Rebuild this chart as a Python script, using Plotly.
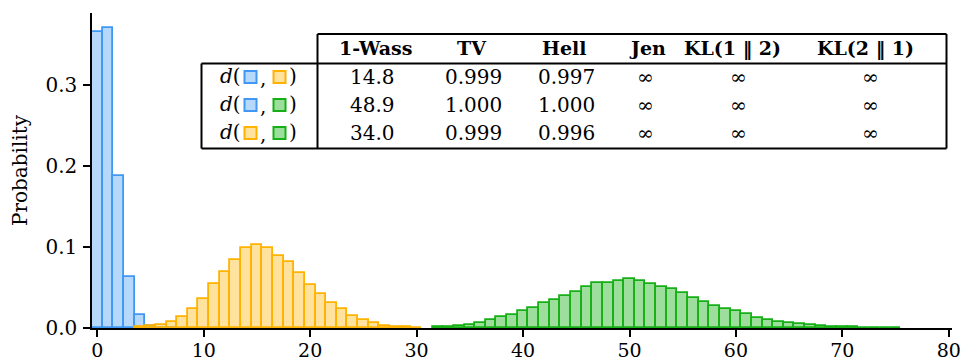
import plotly.graph_objects as go

# Probability mass of the three distributions, per integer bin
blue_x = list(range(0, 8))
blue_p = [0.365, 0.370, 0.187, 0.063, 0.0165, 0.003, 0.0006, 0.0001]

yellow_x = list(range(4, 31))
yellow_p = [0.001, 0.002, 0.004, 0.008, 0.014, 0.023, 0.036, 0.054, 0.069, 0.084,
            0.099, 0.102, 0.099, 0.089, 0.081, 0.068, 0.053, 0.042, 0.031, 0.023,
            0.015, 0.010, 0.006, 0.003, 0.0015, 0.0007, 0.0003]

green_x = list(range(32, 76))
green_p = [0.0007, 0.0012, 0.002, 0.0035, 0.0065, 0.0095, 0.013, 0.016, 0.021, 0.025,
           0.031, 0.034, 0.039, 0.045, 0.050, 0.055, 0.055, 0.058, 0.0605, 0.058,
           0.054, 0.051, 0.0475, 0.043, 0.037, 0.032, 0.027, 0.0235, 0.0205, 0.017,
           0.0125, 0.010, 0.0075, 0.006, 0.0045, 0.0035, 0.0025, 0.0018, 0.0012, 0.0008,
           0.0005, 0.0003, 0.0002, 0.0001]

x_ticks = [0, 10, 20, 30, 40, 50, 60, 70, 80]
y_ticks = [0.0, 0.1, 0.2, 0.3]

# Distance table
col_headers = ["1-Wass", "TV", "Hell", "Jen", "KL(1 \u2016 2)", "KL(2 \u2016 1)"]
row_pairs = [("blue", "yellow"), ("blue", "green"), ("yellow", "green")]
table_values = [
    ["14.8", "0.999", "0.997", "\u221e", "\u221e", "\u221e"],
    ["48.9", "1.000", "1.000", "\u221e", "\u221e", "\u221e"],
    ["34.0", "0.999", "0.996", "\u221e", "\u221e", "\u221e"],
]

edge = {"blue": "rgb(64,152,244)", "yellow": "rgb(255,178,0)", "green": "rgb(22,176,22)"}
fill = {"blue": "rgba(64,152,244,0.38)", "yellow": "rgba(255,178,0,0.38)",
        "green": "rgba(22,176,22,0.42)"}

SERIF = "DejaVu Serif"
W, H = 961, 364
ML, MR, MT, MB = 92, 9, 13, 36
PW, PH = W - ML - MR, H - MT - MB

fig = go.Figure()
for name, xs, ps in [("blue", blue_x, blue_p), ("yellow", yellow_x, yellow_p),
                     ("green", green_x, green_p)]:
    fig.add_trace(go.Bar(
        x=xs, y=ps, width=1.0, name=name, showlegend=False,
        marker=dict(color=fill[name], line=dict(color=edge[name], width=1.8)),
    ))


def px(xp):
    return (xp - ML) / PW


def py(yp):
    return (H - MB - yp) / PH


shapes = []
annotations = []


def hline(x0, x1, y):
    shapes.append(dict(type="line", xref="paper", yref="paper", x0=px(x0), x1=px(x1),
                       y0=py(y), y1=py(y), line=dict(color="black", width=2)))


def vline(x, y0, y1):
    shapes.append(dict(type="line", xref="paper", yref="paper", x0=px(x), x1=px(x),
                       y0=py(y0), y1=py(y1), line=dict(color="black", width=2)))


def text(x, y, s, size=19, anchor="center", bold=False):
    annotations.append(dict(xref="paper", yref="paper", x=px(x), y=py(y), text=s,
                            showarrow=False, xanchor=anchor, yanchor="middle",
                            font=dict(family=SERIF, size=size, color="black",
                                      weight="bold" if bold else "normal")))


# table frame
tbl_l, tbl_m, tbl_r = 201.5, 317.5, 946.5
tbl_top, tbl_sep, tbl_bot = 34, 63.5, 148.5
shapes.append(dict(type="rect", xref="paper", yref="paper", x0=px(tbl_m), x1=px(tbl_r),
                   y0=py(tbl_sep), y1=py(tbl_top), fillcolor="white", line=dict(width=0),
                   layer="above"))
shapes.append(dict(type="rect", xref="paper", yref="paper", x0=px(tbl_l), x1=px(tbl_r),
                   y0=py(tbl_bot), y1=py(tbl_sep), fillcolor="white", line=dict(width=0),
                   layer="above"))
hline(tbl_m, tbl_r, tbl_top)
hline(tbl_l, tbl_r, tbl_sep)
hline(tbl_l, tbl_r, tbl_bot)
vline(tbl_l, tbl_sep, tbl_bot)
vline(tbl_m, tbl_top, tbl_bot)
vline(tbl_r, tbl_top, tbl_bot)

head_x = [375, 472, 564, 647, 732, 865]
body_x = [372, 473, 566, 645, 738, 870]
row_y = [77, 105, 133]

for hx, h in zip(head_x, col_headers):
    text(hx, 48, h, size=19, bold=True)

for ry, vals in zip(row_y, table_values):
    for bx, v in zip(body_x, vals):
        text(bx, ry, v, size=20)

# row labels: d(■, ■) with coloured swatches
for ry, (a, b) in zip(row_y, row_pairs):
    text(243, ry - 1, "<i>d</i>(", size=20, anchor="right")
    text(258, ry + 1, ",", size=20, anchor="left")
    text(287, ry - 1, ")", size=20, anchor="left")
    for (x0, x1), c in [((244.5, 256.5), a), ((273.5, 285.5), b)]:
        shapes.append(dict(type="rect", xref="paper", yref="paper",
                           x0=px(x0), x1=px(x1), y0=py(ry + 6), y1=py(ry - 6),
                           fillcolor=fill[c], line=dict(color=edge[c], width=2),
                           layer="above"))

axis_common = dict(showline=True, linecolor="black", linewidth=1.5, ticks="outside",
                   ticklen=7, tickwidth=1.5, tickcolor="black", showgrid=False,
                   zeroline=False, automargin=False)

fig.update_layout(
    width=W, height=H,
    margin=dict(l=ML, r=MR, t=MT, b=MB),
    paper_bgcolor="white", plot_bgcolor="white",
    barmode="overlay", bargap=0,
    shapes=shapes, annotations=annotations,
    xaxis=dict(range=[-0.5, 80.3], tickvals=x_ticks, ticktext=[str(v) for v in x_ticks],
               ticklabelstandoff=-3, ticklabeloverflow="allow",
               tickfont=dict(family=SERIF, size=19, color="black"), **axis_common),
    yaxis=dict(range=[0, 0.3885], tickvals=y_ticks,
               ticktext=[f"{v:.1f}" for v in y_ticks], ticklabelstandoff=2,
               tickfont=dict(family=SERIF, size=20, color="black"),
               title=dict(text="Probability", standoff=12,
                          font=dict(family=SERIF, size=20, color="black")),
               **axis_common),
)

fig.write_html("out.html")
